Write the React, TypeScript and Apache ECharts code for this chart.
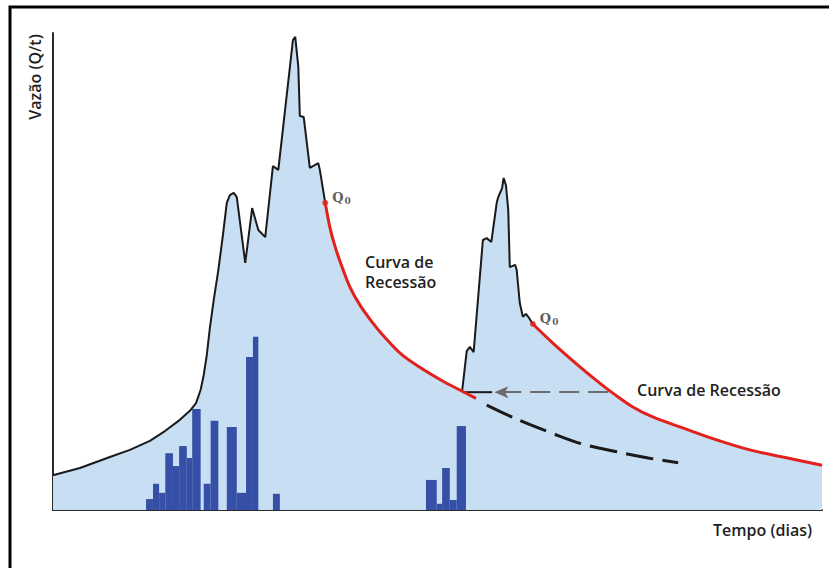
import React, { useEffect, useRef } from "react";
import * as echarts from "echarts";

// Axis extents (arbitrary units: time in days, discharge in relative units)
const X_MAX = 100;
const Y_MAX = 100;

// First flood hydrograph (rising limb and jagged peaks), ends at first Q0
const hydrograph1: [number, number][] = [
  [0, 7.3], [3.5, 8.8], [7.4, 11.1], [10.0, 12.6], [12.6, 14.5], [14.6, 16.6],
  [16.5, 18.9], [17.8, 20.8], [18.6, 22.4], [19.2, 25.2], [19.6, 28.3], [20.0, 32.5],
  [20.4, 38.2], [20.9, 44.0], [21.5, 50.3], [22.1, 57.7], [22.6, 64.4], [23.0, 66.0],
  [23.5, 66.5], [23.9, 65.6], [25.0, 51.8], [25.9, 63.3], [26.7, 58.7], [27.6, 57.2],
  [28.6, 72.1], [29.3, 71.3], [31.2, 98.5], [31.5, 99.2], [31.9, 92.9], [32.1, 82.6],
  [32.6, 82.4], [33.4, 71.7], [34.5, 72.7], [34.7, 71.3], [35.4, 64.4],
];

// First recession curve (red), from Q0 until just past the second event
const recession1: [number, number][] = [
  [35.4, 64.4], [36.0, 59.3], [36.7, 55.1], [37.6, 50.9], [38.6, 46.8], [39.9, 43.0],
  [41.5, 39.4], [43.2, 36.1], [45.4, 32.5], [48.0, 29.6], [50.6, 27.1], [53.2, 24.9],
  [55.0, 23.4],
];

// Projected continuation of the first recession (dashed)
const recession1Projection: [number, number][] = [
  [56.4, 22.0], [60.5, 18.9], [64.9, 16.1], [68.9, 13.8], [73.3, 12.2], [77.4, 10.9],
  [81.3, 9.9],
];

// Second flood hydrograph, ends at second Q0
const hydrograph2: [number, number][] = [
  [53.2, 24.9], [53.8, 33.3], [54.2, 34.2], [54.7, 33.1], [55.9, 56.6], [56.4, 57.0],
  [57.0, 56.2], [57.7, 64.4], [57.9, 65.6], [58.4, 67.5], [58.6, 69.6], [58.9, 68.1],
  [59.2, 62.9], [59.4, 50.9], [60.1, 51.4], [60.3, 50.3], [60.7, 43.4], [61.1, 40.5],
  [61.5, 41.1], [61.8, 40.5], [62.4, 39.0],
];

// Second recession curve (red)
const recession2: [number, number][] = [
  [62.4, 39.0], [65.0, 35.0], [68.1, 30.6], [71.1, 26.6], [72.8, 24.5], [75.4, 21.6],
  [78.0, 19.5], [81.9, 17.2], [86.3, 14.7], [90.6, 12.6], [94.9, 11.1], [100, 9.4],
];

// Precipitation bars: [start day, end day, height]
const precipitation: [number, number, number][] = [
  [12.1, 13.0, 2.3], [13.0, 13.8, 5.5], [13.8, 14.6, 3.6], [14.6, 15.6, 11.9],
  [15.6, 16.4, 9.2], [16.4, 17.4, 13.4], [17.4, 18.1, 10.9], [18.1, 19.2, 21.2],
  [19.6, 20.5, 5.5], [20.5, 21.5, 18.7], [22.6, 23.9, 17.4], [23.9, 25.1, 3.6],
  [25.1, 26.0, 32.1], [26.0, 26.7, 36.3], [28.6, 29.5, 3.4],
  [48.5, 49.9, 6.3], [49.9, 50.6, 1.3], [50.6, 51.6, 8.8], [51.6, 52.5, 2.1],
  [52.5, 53.7, 17.6],
];

// Q0 points (start of each recession)
const q0Points: [number, number][] = [[35.4, 64.4], [62.4, 39.0]];

// Arrow from the second recession back to the start of the second event
const arrowLevel = 24.7;
const arrowFrom = 72.2;
const arrowTip = 57.4;
const arrowStemStart = 53.3;

const TEXT_FONT = "'Open Sans', 'Noto Sans', sans-serif";

export default function App() {
  const ref = useRef<HTMLDivElement>(null);

  useEffect(() => {
    if (!ref.current) return;
    const chart = echarts.init(ref.current, undefined, { renderer: "svg" });

    const envelope: [number, number][] = [
      ...hydrograph1,
      ...recession1.slice(1).filter((p) => p[0] <= hydrograph2[0][0]),
      ...hydrograph2.slice(1),
      ...recession2.slice(1),
    ];

    const textStyle = (extra: any) => ({
      fontFamily: TEXT_FONT,
      fontSize: 16,
      fontWeight: 600,
      fill: "#1e1e1e",
      ...extra,
    });

    chart.setOption({
      animation: false,
      backgroundColor: "#ffffff",
      grid: { left: 53, right: 7, top: 33, bottom: 58, containLabel: false },
      xAxis: {
        type: "value",
        min: 0,
        max: X_MAX,
        axisLine: { show: true, onZero: false, lineStyle: { color: "#2a2a2a", width: 2 } },
        axisTick: { show: false },
        axisLabel: { show: false },
        splitLine: { show: false },
      },
      yAxis: {
        type: "value",
        min: 0,
        max: Y_MAX,
        axisLine: { show: true, onZero: false, lineStyle: { color: "#2a2a2a", width: 2 } },
        axisTick: { show: false },
        axisLabel: { show: false },
        splitLine: { show: false },
      },
      graphic: [
        {
          type: "rect",
          silent: true,
          shape: { x: 10, y: 7, width: 840, height: 600 },
          style: { fill: "none", stroke: "#000000", lineWidth: 3 },
        },
        {
          type: "text",
          x: 35,
          y: 77,
          rotation: Math.PI / 2,
          style: textStyle({ text: "Vazão (Q/t)", textAlign: "center", textVerticalAlign: "middle" }),
        },
        {
          type: "text",
          x: 713,
          y: 530,
          style: textStyle({ text: "Tempo (dias)", textAlign: "left", textVerticalAlign: "middle" }),
        },
        {
          type: "text",
          x: 297,
          y: 476,
          style: textStyle({ text: "Precipitação", textAlign: "left", textVerticalAlign: "middle" }),
        },
        {
          type: "text",
          x: 365,
          y: 262,
          style: textStyle({ text: "Curva de", textAlign: "left", textVerticalAlign: "middle" }),
        },
        {
          type: "text",
          x: 365,
          y: 282,
          style: textStyle({ text: "Recessão", textAlign: "left", textVerticalAlign: "middle" }),
        },
        {
          type: "text",
          x: 637,
          y: 390,
          style: textStyle({ text: "Curva de Recessão", textAlign: "left", textVerticalAlign: "middle" }),
        },
      ],
      series: [
        {
          name: "envelope",
          type: "line",
          data: envelope,
          symbol: "none",
          lineStyle: { width: 0, opacity: 0 },
          areaStyle: { color: "#c8def3", opacity: 1 },
          z: 1,
          silent: true,
        },
        {
          name: "Precipitação",
          type: "custom",
          data: precipitation,
          encode: { x: [0, 1], y: 2 },
          z: 2,
          renderItem: (params: any, api: any) => {
            const x0 = api.value(0);
            const x1 = api.value(1);
            const h = api.value(2);
            const top = api.coord([x0, h]);
            const bottom = api.coord([x1, 0]);
            return {
              type: "rect",
              shape: {
                x: top[0],
                y: top[1],
                width: bottom[0] - top[0],
                height: bottom[1] - top[1],
              },
              style: { fill: "#3550a6" },
            };
          },
        },
        {
          name: "hydrograph1",
          type: "line",
          data: hydrograph1,
          symbol: "none",
          lineStyle: { color: "#1a1a1a", width: 2 },
          z: 4,
        },
        {
          name: "hydrograph2",
          type: "line",
          data: hydrograph2,
          symbol: "none",
          lineStyle: { color: "#1a1a1a", width: 2 },
          z: 4,
        },
        {
          name: "recession1",
          type: "line",
          data: recession1,
          symbol: "none",
          smooth: 0.35,
          lineStyle: { color: "#e3201b", width: 3 },
          z: 5,
        },
        {
          name: "recession2",
          type: "line",
          data: recession2,
          symbol: "none",
          smooth: 0.35,
          lineStyle: { color: "#e3201b", width: 3 },
          z: 5,
        },
        {
          name: "projection",
          type: "line",
          data: recession1Projection,
          symbol: "none",
          smooth: 0.35,
          lineStyle: { color: "#1a1a1a", width: 3, type: [28, 9] },
          z: 4,
        },
        {
          name: "arrowStem",
          type: "line",
          data: [
            [arrowStemStart, arrowLevel],
            [arrowTip - 0.3, arrowLevel],
          ],
          symbol: "none",
          lineStyle: { color: "#1a1a1a", width: 2 },
          z: 4,
          markLine: {
            silent: true,
            symbol: ["none", "arrow"],
            symbolSize: [9, 14],
            label: { show: false },
            lineStyle: { color: "#6b6b6b", width: 2, type: [20, 9] },
            data: [[{ coord: [arrowFrom, arrowLevel] }, { coord: [arrowTip, arrowLevel] }]],
          },
        },
        {
          name: "Q0",
          type: "scatter",
          data: q0Points,
          symbol: "circle",
          symbolSize: 6,
          itemStyle: { color: "#e3201b" },
          z: 6,
          label: {
            show: true,
            position: "right",
            distance: 4,
            offset: [0, -5],
            formatter: "{q|Q}{s|0}",
            rich: {
              q: { fontFamily: "'DejaVu Serif', serif", fontSize: 13, fontWeight: "bold", color: "#333" },
              s: {
                fontFamily: "'DejaVu Serif', serif",
                fontSize: 9,
                fontWeight: "bold",
                color: "#333",
                verticalAlign: "bottom",
                padding: [6, 0, 0, 1],
              },
            },
          },
        },
      ],
    });

    return () => {
      chart.dispose();
    };
  }, []);

  return (
    <div
      ref={ref}
      style={{ position: "absolute", left: 0, top: 0, width: 829, height: 568, background: "#fff" }}
    />
  );
}
